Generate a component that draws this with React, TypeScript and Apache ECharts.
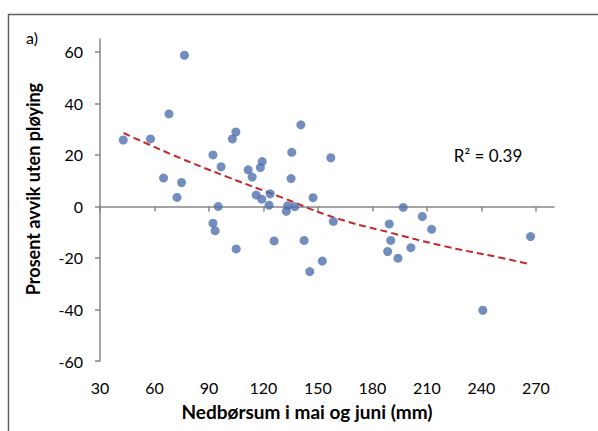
import React, { useEffect, useRef } from "react";
import * as echarts from "echarts";

const xValues = [42.8, 57.8, 68.0, 76.5, 65.0, 74.9, 72.4, 92.2, 96.7, 95.1, 92.2, 93.4, 102.9, 104.8, 111.6, 113.8, 119.3, 118.3, 116.0, 119.1, 123.7, 123.1, 135.6, 135.2, 140.6, 133.4, 132.6, 137.3, 147.3, 157.1, 158.5, 125.9, 142.4, 152.4, 145.5, 105.0, 197.0, 207.5, 212.6, 189.3, 190.1, 188.4, 201.2, 194.1, 267.1, 240.8];
const yValues = [25.8, 26.2, 35.9, 58.7, 11.0, 9.3, 3.5, 20.0, 15.4, 0, -6.5, -9.4, 26.2, 28.9, 14.2, 11.4, 17.4, 15.1, 4.4, 2.8, 4.9, 0.5, 21.0, 10.8, 31.7, 0.3, -1.9, -0.1, 3.4, 18.9, -5.8, -13.4, -13.2, -21.2, -25.3, -16.5, -0.4, -3.9, -8.9, -6.8, -13.2, -17.5, -16.0, -20.1, -11.7, -40.3];

const trendX = [43, 70, 100, 130, 160, 190, 220, 250, 267];
const trendY = [28.5, 20, 11.5, 3.5, -4.5, -10.2, -15.5, -19.8, -22.5];

const xTicks = [30, 60, 90, 120, 150, 180, 210, 240, 270];
const yTicks = [-60, -40, -20, 0, 20, 40, 60];

const xTitle = "Nedbørsum i mai og juni (mm)";
const yTitle = "Prosent avvik uten pløying";
const r2Text = "R² = 0.39";
const panelLabel = "a)";

const FONT = "Lato";
const AXIS_COLOR = "#868686";

export default function App() {
  const ref = useRef<HTMLDivElement>(null);
  useEffect(() => {
    if (!ref.current) return;
    const chart = echarts.init(ref.current, null, { renderer: "svg" });
    chart.setOption({
      animation: false,
      backgroundColor: "#ffffff",
      textStyle: { fontFamily: FONT },
      grid: { left: 100, right: 44, top: 39, bottom: 70, containLabel: false },
      xAxis: [
        {
          type: "value",
          min: 30,
          max: 280,
          position: "bottom",
          axisLine: { show: false, onZero: false },
          axisTick: { show: false },
          splitLine: { show: false },
          axisLabel: {
            customValues: xTicks,
            margin: 18,
            color: "#000",
            fontSize: 16,
            fontFamily: FONT,
          },
        },
        {
          type: "value",
          min: 30,
          max: 280,
          position: "bottom",
          axisLine: { show: true, onZero: true, lineStyle: { color: AXIS_COLOR, width: 1.5 } },
          axisTick: { show: true, customValues: xTicks, length: 5, lineStyle: { color: AXIS_COLOR, width: 1.5 } },
          splitLine: { show: false },
          axisLabel: { show: false },
        },
      ],
      yAxis: {
        type: "value",
        min: -60,
        max: 65,
        axisLine: { show: true, onZero: false, lineStyle: { color: AXIS_COLOR, width: 1.5 } },
        axisTick: { show: true, customValues: yTicks, length: 5, lineStyle: { color: AXIS_COLOR, width: 1.5 } },
        splitLine: { show: false },
        axisLabel: {
          customValues: yTicks,
          margin: 17,
          color: "#000",
          fontSize: 16,
          fontFamily: FONT,
        },
      },
      series: [
        {
          type: "scatter",
          xAxisIndex: 0,
          symbol: "circle",
          symbolSize: 9,
          itemStyle: { color: "#4F71AE" },
          data: xValues.map((x, i) => [x, yValues[i]]),
          z: 3,
        },
        {
          type: "line",
          xAxisIndex: 0,
          smooth: true,
          showSymbol: false,
          symbol: "none",
          lineStyle: { color: "#C0282A", width: 2, type: [7, 4] },
          data: trendX.map((x, i) => [x, trendY[i]]),
          z: 2,
        },
      ],
      graphic: [
        {
          type: "rect",
          shape: { x: 8.5, y: 14.5, width: 800, height: 800 },
          style: { fill: "none", stroke: "#5f5f5f", lineWidth: 1.5 },
          silent: true,
        },
        {
          type: "text",
          x: 32,
          y: 37,
          style: { text: panelLabel, font: `16px ${FONT}`, fill: "#000", align: "center", verticalAlign: "middle" },
        },
        {
          type: "text",
          x: 488,
          y: 155,
          style: { text: r2Text, font: `17px ${FONT}`, fill: "#000", align: "center", verticalAlign: "middle" },
        },
        {
          type: "text",
          x: 307,
          y: 411,
          style: { text: xTitle, font: `bold 19px ${FONT}`, fill: "#000", align: "center", verticalAlign: "middle" },
        },
        {
          type: "text",
          x: 33,
          y: 189,
          rotation: Math.PI / 2,
          style: { text: yTitle, font: `bold 18px ${FONT}`, fill: "#000", align: "center", verticalAlign: "middle" },
        },
      ],
    });
    return () => chart.dispose();
  }, []);
  return <div ref={ref} style={{ position: "fixed", left: 0, top: 0, width: 598, height: 431 }} />;
}
